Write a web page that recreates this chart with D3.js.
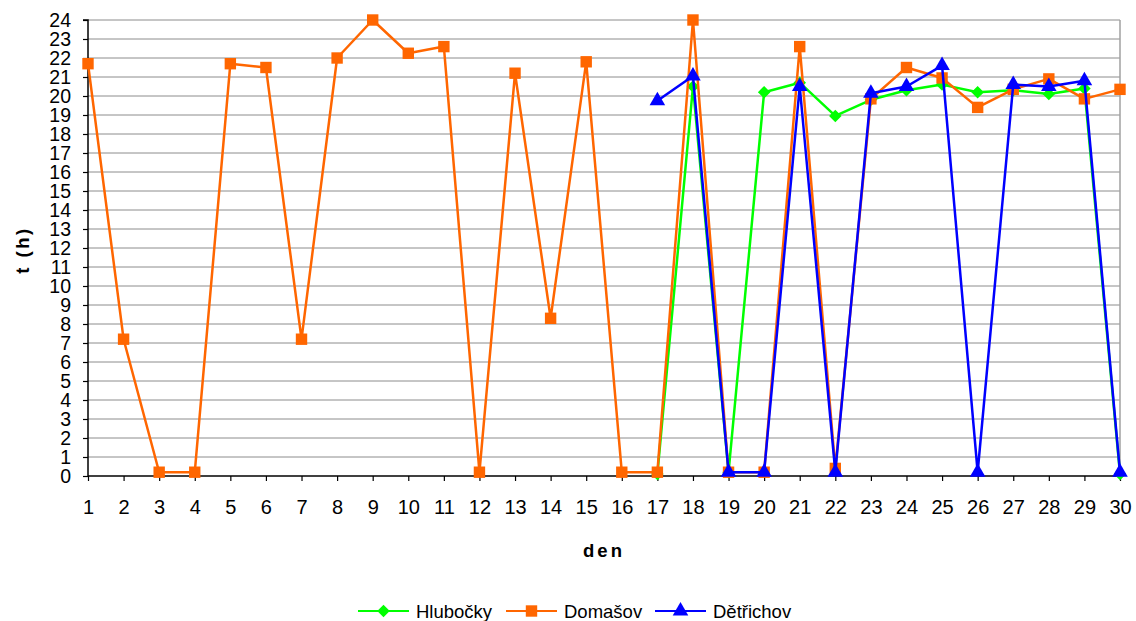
<!DOCTYPE html>
<html><head><meta charset="utf-8">
<script src="https://cdn.jsdelivr.net/npm/d3@7"></script>
<style>body{margin:0;background:#fff}svg{display:block;font-family:"Liberation Sans",Arial,sans-serif}</style>
</head><body><svg id="c" width="1136" height="621"></svg>
<script>
const days = d3.range(1, 31);
const yTicks = d3.range(0, 25);
const hlubocky = [null,null,null,null,null,null,null,null,null,null,null,null,null,null,null,null,
  0.1,20.5,0.2,20.2,20.7,18.95,19.8,20.3,20.6,20.2,20.3,20.1,20.4,0.1];
const domasov = [21.7,7.2,0.2,0.2,21.7,21.5,7.2,22.0,24.0,22.25,22.6,0.2,21.2,8.3,21.8,0.2,
  0.2,24.0,0.2,0.2,22.6,0.4,19.85,21.5,20.95,19.4,20.35,20.9,19.85,20.35];
const detrichov = [null,null,null,null,null,null,null,null,null,null,null,null,null,null,null,null,
  19.75,21.05,0.2,0.2,20.5,0.2,20.15,20.5,21.6,0.2,20.6,20.5,20.8,0.2];
const series = [
  {name:"Hlubočky", values:hlubocky, color:"#00ff00", marker:"diamond"},
  {name:"Domašov", values:domasov, color:"#ff6600", marker:"square"},
  {name:"Dětřichov", values:detrichov, color:"#0000ff", marker:"triangle"}
];
const svg = d3.select("#c");
const L = 88, R = 1120, T = 20, B = 476;
const x = d3.scaleLinear().domain([1, 30]).range([L, R]);
const y = d3.scaleLinear().domain([0, 24]).range([B, T]);

// gridlines
svg.append("g").selectAll("line").data(yTicks.filter(d => d > 0)).join("line")
  .attr("x1", L).attr("x2", R).attr("y1", d => y(d)).attr("y2", d => y(d))
  .attr("stroke", "#8c8c8c").attr("stroke-width", 1);
// right border
svg.append("line").attr("x1", R).attr("x2", R).attr("y1", T).attr("y2", B)
  .attr("stroke", "#a0a0a0").attr("stroke-width", 1.5);

// axes
const yAxis = svg.append("g").attr("transform", `translate(${L},0)`)
  .call(d3.axisLeft(y).tickValues(yTicks).tickSize(5).tickPadding(12).tickFormat(d3.format("d")));
const xAxis = svg.append("g").attr("transform", `translate(0,${B})`)
  .call(d3.axisBottom(x).tickValues(days).tickSize(5).tickPadding(19).tickFormat(d3.format("d")));
[yAxis, xAxis].forEach(g => {
  g.select(".domain").attr("stroke", "#000").attr("stroke-width", 1.5);
  g.selectAll(".tick line").attr("stroke", "#000").attr("stroke-width", 1.2);
  g.selectAll("text").attr("fill", "#000")
    .attr("font-family", '"Liberation Sans",Arial,sans-serif');
});
yAxis.selectAll("text").attr("font-size", 19.5);
xAxis.selectAll("text").attr("font-size", 20);
yAxis.select(".domain").attr("d", `M-5,${T}H0V${B}`);
xAxis.select(".domain").attr("d", `M${L},0H${R}`);

// axis titles
svg.append("text").attr("transform", `translate(29,${(T+B)/2 + 2}) rotate(-90)`)
  .attr("text-anchor", "middle").attr("font-size", 18.5).attr("font-weight", "bold")
  .attr("letter-spacing", 2.5).text("t (h)");
svg.append("text").attr("x", 604).attr("y", 556.5).attr("text-anchor", "middle")
  .attr("font-size", 18.5).attr("font-weight", "bold").attr("letter-spacing", 3).text("den");

const sym = {
  diamond: d3.symbol().type(d3.symbolDiamond2).size(100),
  square: d3.symbol().type(d3.symbolSquare).size(130),
  triangle: d3.symbol().type(d3.symbolTriangle).size(105)
};
const line = d3.line().defined(d => d[1] !== null).x(d => x(d[0])).y(d => y(d[1]));

series.forEach(s => {
  const pts = s.values.map((v, i) => [days[i], v]);
  const g = svg.append("g");
  g.append("path").datum(pts).attr("d", line).attr("fill", "none")
    .attr("stroke", s.color).attr("stroke-width", 2.5).attr("stroke-linejoin", "round");
  g.selectAll("path.m").data(pts.filter(d => d[1] !== null)).join("path").attr("class", "m")
    .attr("transform", d => `translate(${x(d[0])},${y(d[1])})`)
    .attr("d", sym[s.marker]()).attr("fill", s.color);
});

// legend
const legX = [358, 506, 655];
series.forEach((s, i) => {
  const g = svg.append("g").attr("transform", `translate(${legX[i]},611)`);
  g.append("line").attr("x1", 0).attr("x2", 51).attr("stroke", s.color).attr("stroke-width", 2);
  g.append("path").attr("transform", "translate(25.5,0)").attr("d", sym[s.marker]()).attr("fill", s.color);
  g.append("text").attr("x", 58).attr("y", 6.5).attr("font-size", 18.5).text(s.name);
});
</script></body></html>
